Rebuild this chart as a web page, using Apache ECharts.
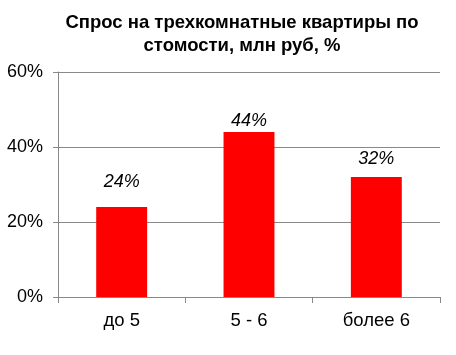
<!DOCTYPE html>
<html><head><meta charset="utf-8">
<script src="https://cdn.jsdelivr.net/npm/echarts@6/dist/echarts.min.js"></script>
<style>html,body{margin:0;padding:0;background:#fff}#c{width:456px;height:355px}</style>
</head><body><div id="c"></div>
<script>
const categories = ["до 5", "5 - 6", "более 6"];
const values = [24, 44, 32];
const yTicks = [0, 20, 40, 60];
const labelGaps = [16, 2, 9];
const chart = echarts.init(document.getElementById('c'));
chart.setOption({
  animation: false,
  title: {
    text: 'Спрос на трехкомнатные квартиры по\nстомости, млн руб, %',
    left: 237, top: 6, textAlign: 'center',
    textStyle: {fontFamily: 'Liberation Sans, Arial', fontWeight: 'bold', fontSize: 18.5, lineHeight: 23, color: '#000'}
  },
  grid: {left: 58, right: 16, top: 72, bottom: 58, containLabel: false},
  xAxis: {
    type: 'category', data: categories,
    axisLine: {lineStyle: {color: '#888'}},
    axisTick: {show: true, length: 6, lineStyle: {color: '#888'}},
    axisLabel: {color: '#000', fontSize: 18.5, fontFamily: 'Liberation Sans, Arial', margin: 14}
  },
  yAxis: {
    type: 'value', min: yTicks[0], max: yTicks[yTicks.length-1], interval: 20,
    axisLine: {show: true, lineStyle: {color: '#888'}},
    axisTick: {show: true, length: 5, lineStyle: {color: '#888'}},
    splitLine: {lineStyle: {color: '#888'}},
    axisLabel: {formatter: '{value}%', color: '#000', fontSize: 18, fontFamily: 'Liberation Sans, Arial', margin: 15}
  },
  series: [{
    type: 'bar',
    data: values.map((v, i) => ({value: v, label: {distance: labelGaps[i]}})),
    barWidth: '40%',
    itemStyle: {color: '#ff0000'},
    label: {show: true, position: 'top', formatter: '{c}%', fontStyle: 'italic', fontSize: 18, color: '#000', fontFamily: 'Liberation Sans, Arial'}
  }]
});
</script></body></html>
